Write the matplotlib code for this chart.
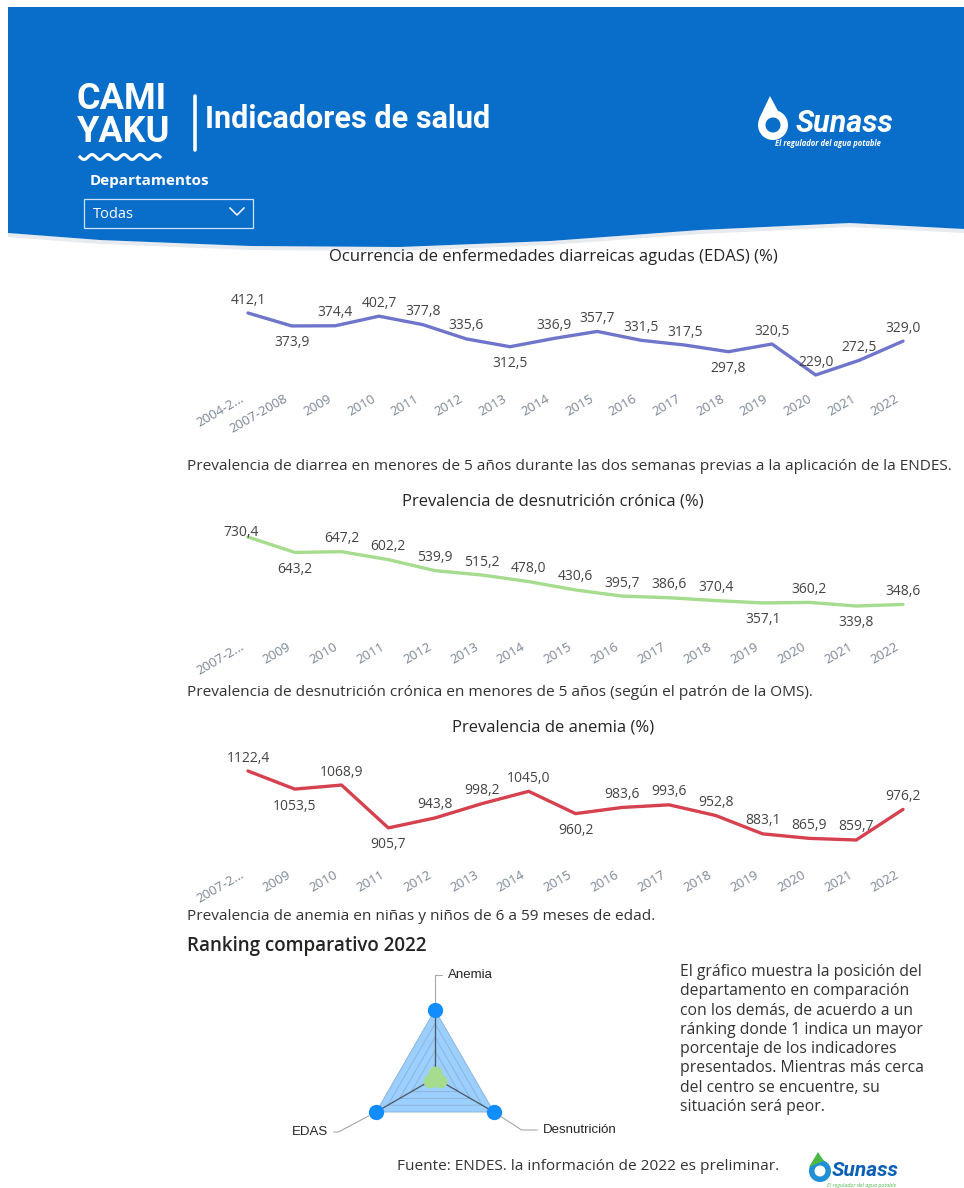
import numpy as np
import matplotlib
matplotlib.use('Agg')
import matplotlib.pyplot as plt
from matplotlib import font_manager
from matplotlib.patches import Polygon, Rectangle, Wedge
from matplotlib.transforms import ScaledTranslation

W, H = 964, 1188

# --- data ---
edas_years = ['2004-2...', '2007-2008', '2009', '2010', '2011', '2012', '2013', '2014',
              '2015', '2016', '2017', '2018', '2019', '2020', '2021', '2022']
edas_vals = [412.1, 373.9, 374.4, 402.7, 377.8, 335.6, 312.5, 336.9,
             357.7, 331.5, 317.5, 297.8, 320.5, 229.0, 272.5, 329.0]

desn_years = ['2007-2...', '2009', '2010', '2011', '2012', '2013', '2014', '2015',
              '2016', '2017', '2018', '2019', '2020', '2021', '2022']
desn_vals = [730.4, 643.2, 647.2, 602.2, 539.9, 515.2, 478.0, 430.6,
             395.7, 386.6, 370.4, 357.1, 360.2, 339.8, 348.6]

anem_years = ['2007-2...', '2009', '2010', '2011', '2012', '2013', '2014', '2015',
              '2016', '2017', '2018', '2019', '2020', '2021', '2022']
anem_vals = [1122.4, 1053.5, 1068.9, 905.7, 943.8, 998.2, 1045.0, 960.2,
             983.6, 993.6, 952.8, 883.1, 865.9, 859.7, 976.2]

radar_labels = ['Anemia', 'EDAS', 'Desnutrición']
radar_total = [25, 25, 25]
radar_dep = [2, 2, 2]

# label placement (a = above, b = below, c = tight above)
edas_pos = 'abaaaabaaaabaaaa'
desn_pos = 'cb' + 'a' * 9 + 'baba'
anem_pos = 'abab' + 'aaa' + 'b' + 'a' * 7

fonts = {f.name for f in font_manager.fontManager.ttflist}
plt.rcParams['font.family'] = ['Open Sans', 'DejaVu Sans']
narrow = 'Liberation Sans Narrow' if 'Liberation Sans Narrow' in fonts else 'Roboto'

BLUE = '#096DCA'
TXT = '#333333'

fig = plt.figure(figsize=(W / 100, H / 100), dpi=100)
fig.patch.set_facecolor('white')

# background layer in pixel coordinates
bg = fig.add_axes([0, 0, 1, 1], zorder=0)
bg.set_xlim(0, W)
bg.set_ylim(H, 0)
bg.axis('off')

# header band with wavy bottom edge
wx = np.linspace(8, W, 200)
wy = np.interp(wx, [8, 100, 250, 400, 550, 700, 850, 964],
               [233, 240, 246, 247, 241, 230, 223, 229])
shadow = np.vstack([np.c_[wx, wy + 4], np.c_[wx[::-1], wy[::-1]]])
bg.add_patch(Polygon(shadow, closed=True, fc='#d8dde3', ec='none', alpha=0.6))
band = np.vstack([[[8, 7], [W, 7]], np.c_[wx[::-1], wy[::-1]]])
bg.add_patch(Polygon(band, closed=True, fc=BLUE, ec='none'))

# CAMI YAKU logo
bg.text(77, 99, 'CAMI', color='white', fontsize=26, fontweight='bold',
        family=narrow, va='center', ha='left')
bg.text(77, 132, 'YAKU', color='white', fontsize=26, fontweight='bold',
        family=narrow, va='center', ha='left')
lx = np.linspace(80, 160, 120)
bg.plot(lx, 157 + 2.5 * np.sin((lx - 80) / 80 * 2 * np.pi * 5), color='white', lw=2.2)
bg.plot([195, 195], [96, 150], color='white', lw=2.6, solid_capstyle='round')
bg.text(205, 119, 'Indicadores de salud', color='white', fontsize=22,
        fontweight='bold', family='Roboto', va='center', ha='left')

# filter
bg.text(90, 181, 'Departamentos', color='white', fontsize=11, fontweight='bold',
        va='center', ha='left')
bg.add_patch(Rectangle((84, 199), 169, 29, fc='none', ec='#cfe2f7', lw=0.9))
bg.text(93, 214, 'Todas', color='white', fontsize=10.5, va='center', ha='left')
bg.plot([230, 237, 244], [208, 215, 208], color='white', lw=1.1)

# Sunass logo (header)
bg.add_patch(Wedge((773, 125), 15, 0, 360, width=7.5, fc='white', ec='none'))
bg.add_patch(Polygon([[759, 119], [770, 96], [778, 111]], closed=True, fc='white', ec='none'))
bg.text(796, 124, 'Sunass', color='white', fontsize=22, fontweight='bold',
        style='italic', family='Roboto', va='center', ha='left')
bg.text(828, 143, 'El regulador del agua potable', color='white', fontsize=5.5,
        fontweight='bold', style='italic', va='center', ha='center')

# chart titles / captions
for y, t in [(257, 'Ocurrencia de enfermedades diarreicas agudas (EDAS) (%)'),
             (501, 'Prevalencia de desnutrición crónica (%)'),
             (727, 'Prevalencia de anemia (%)')]:
    bg.text(553, y, t, color='#252423', fontsize=12, ha='center', va='center')

for y, t in [(466, 'Prevalencia de diarrea en menores de 5 años durante las dos semanas previas a la aplicación de la ENDES.'),
             (693, 'Prevalencia de desnutrición crónica en menores de 5 años (según el patrón de la OMS).'),
             (917, 'Prevalencia de anemia en niñas y niños de 6 a 59 meses de edad.')]:
    bg.text(187, y, t, color=TXT, fontsize=11.1, ha='left', va='center')


def fmt(v):
    return f'{v:.1f}'.replace('.', ',')


def line_chart(top, bottom, labels, vals, color, pos, tick_gap):
    ax = fig.add_axes([248 / W, 1 - bottom / H, 655 / W, (bottom - top) / H], zorder=2)
    ax.patch.set_alpha(0)
    x = np.arange(len(vals))
    ax.plot(x, vals, color=color, lw=2.4, solid_joinstyle='round',
            solid_capstyle='round', clip_on=False)
    ax.set_xlim(0, len(vals) - 1)
    ax.set_ylim(min(vals), max(vals))
    for s in ax.spines.values():
        s.set_visible(False)
    ax.set_yticks([])
    ax.set_xticks(x)
    ax.set_xticklabels(labels, rotation=30, ha='right', va='top',
                       rotation_mode='anchor', color='#7b8594', fontsize=9.5)
    ax.tick_params(axis='x', length=0, pad=tick_gap * 0.72)
    shift = ScaledTranslation(-8 / 100, 0, fig.dpi_scale_trans)
    for lab in ax.get_xticklabels():
        lab.set_transform(lab.get_transform() + shift)
    for i, (v, p) in enumerate(zip(vals, pos)):
        dx, dy = {'a': (0, 13), 'b': (0, -17), 'c': (-7, 4)}[p]
        ax.annotate(fmt(v), (i, v), xytext=(dx, dy), textcoords='offset pixels',
                    ha='center', va='center', fontsize=10, color='#444444',
                    annotation_clip=False)
    return ax


line_chart(313, 375, edas_years, edas_vals, '#7075CC', edas_pos, 17)
line_chart(537, 606, desn_years, desn_vals, '#A6DC8D', desn_pos, 34)
line_chart(771, 840, anem_years, anem_vals, '#D6414F', anem_pos, 28)

# ranking section
bg.text(187, 946, 'Ranking comparativo 2022', color='#252423', fontsize=13.5,
        fontweight='semibold', ha='left', va='center')

para = ['El gráfico muestra la posición del', 'departamento en comparación',
        'con los demás, de acuerdo a un', 'ránking donde 1 indica un mayor',
        'porcentaje de los indicadores', 'presentados. Mientras más cerca',
        'del centro se encuentre, su', 'situación será peor.']
for k, line in enumerate(para):
    bg.text(680, 972 + k * 19.3, line, color=TXT, fontsize=11.3, ha='left', va='center')

bg.text(397, 1166, 'Fuente: ENDES. la información de 2022 es preliminar.', color=TXT,
        fontsize=11.1, ha='left', va='center')

# footer Sunass logo
bg.add_patch(Wedge((820, 1171), 11, 0, 360, width=5.5, fc='#1f8fd6', ec='none'))
bg.add_patch(Polygon([[809, 1167], [818, 1152], [824, 1161]], closed=True, fc='#4cb848', ec='none'))
bg.text(832, 1171, 'Sunass', color='#0a5fb4', fontsize=15, fontweight='bold',
        style='italic', family='Roboto', va='center', ha='left')
bg.text(862, 1186, 'El regulador del agua potable', color='#4cb848', fontsize=3.8,
        style='italic', va='center', ha='center')

# radar
R = 68
rx = fig.add_axes([(435 - R) / W, 1 - (1078 + R) / H, 2 * R / W, 2 * R / H], zorder=3)
rx.set_xlim(-25, 25)
rx.set_ylim(-25, 25)
rx.axis('off')
ang = np.pi / 2 + 2 * np.pi * np.arange(3) / 3
tot = np.array(radar_total, dtype=float)
dep = np.array(radar_dep, dtype=float)
tx, ty = tot * np.cos(ang), tot * np.sin(ang)
dx_, dy_ = dep * np.cos(ang), dep * np.sin(ang)
rx.fill(tx, ty, color='#118DFF', alpha=0.42, lw=0)
for lev in [5, 10, 15, 20, 25]:
    gx = np.r_[lev * np.cos(ang), lev * np.cos(ang[0])]
    gy = np.r_[lev * np.sin(ang), lev * np.sin(ang[0])]
    rx.plot(gx, gy, color='#8fb3d6', lw=0.7, clip_on=False)
for a in ang:
    rx.plot([0, 25 * np.cos(a)], [0, 25 * np.sin(a)], color='#4a5560', lw=0.9)
rx.fill(dx_, dy_, color='#A6DC8D', lw=0)
rx.plot(dx_, dy_, 'o', color='#A6DC8D', ms=9, clip_on=False)
rx.plot(tx, ty, 'o', color='#118DFF', ms=10, clip_on=False)

lab_style = dict(textcoords='offset pixels', va='center', fontsize=9.5,
                 family='Liberation Sans', color='#252423', annotation_clip=False)
arrow = dict(arrowstyle='-', color='#a8a8a8', lw=0.8, shrinkA=2, shrinkB=6)
rx.annotate(radar_labels[0], (tx[0], ty[0]), xytext=(13, 35), ha='left',
            arrowprops=dict(arrow, connectionstyle='angle,angleA=0,angleB=90,rad=0'),
            **lab_style)
rx.annotate(radar_labels[1], (tx[1], ty[1]), xytext=(-48, -20), ha='right',
            arrowprops=dict(arrow, connectionstyle='angle,angleA=0,angleB=28,rad=0'),
            **lab_style)
rx.annotate(radar_labels[2], (tx[2], ty[2]), xytext=(49, -18), ha='left',
            arrowprops=dict(arrow, connectionstyle='angle,angleA=0,angleB=-33,rad=0'),
            **lab_style)

fig.savefig('out.png', dpi=100, facecolor='white')
